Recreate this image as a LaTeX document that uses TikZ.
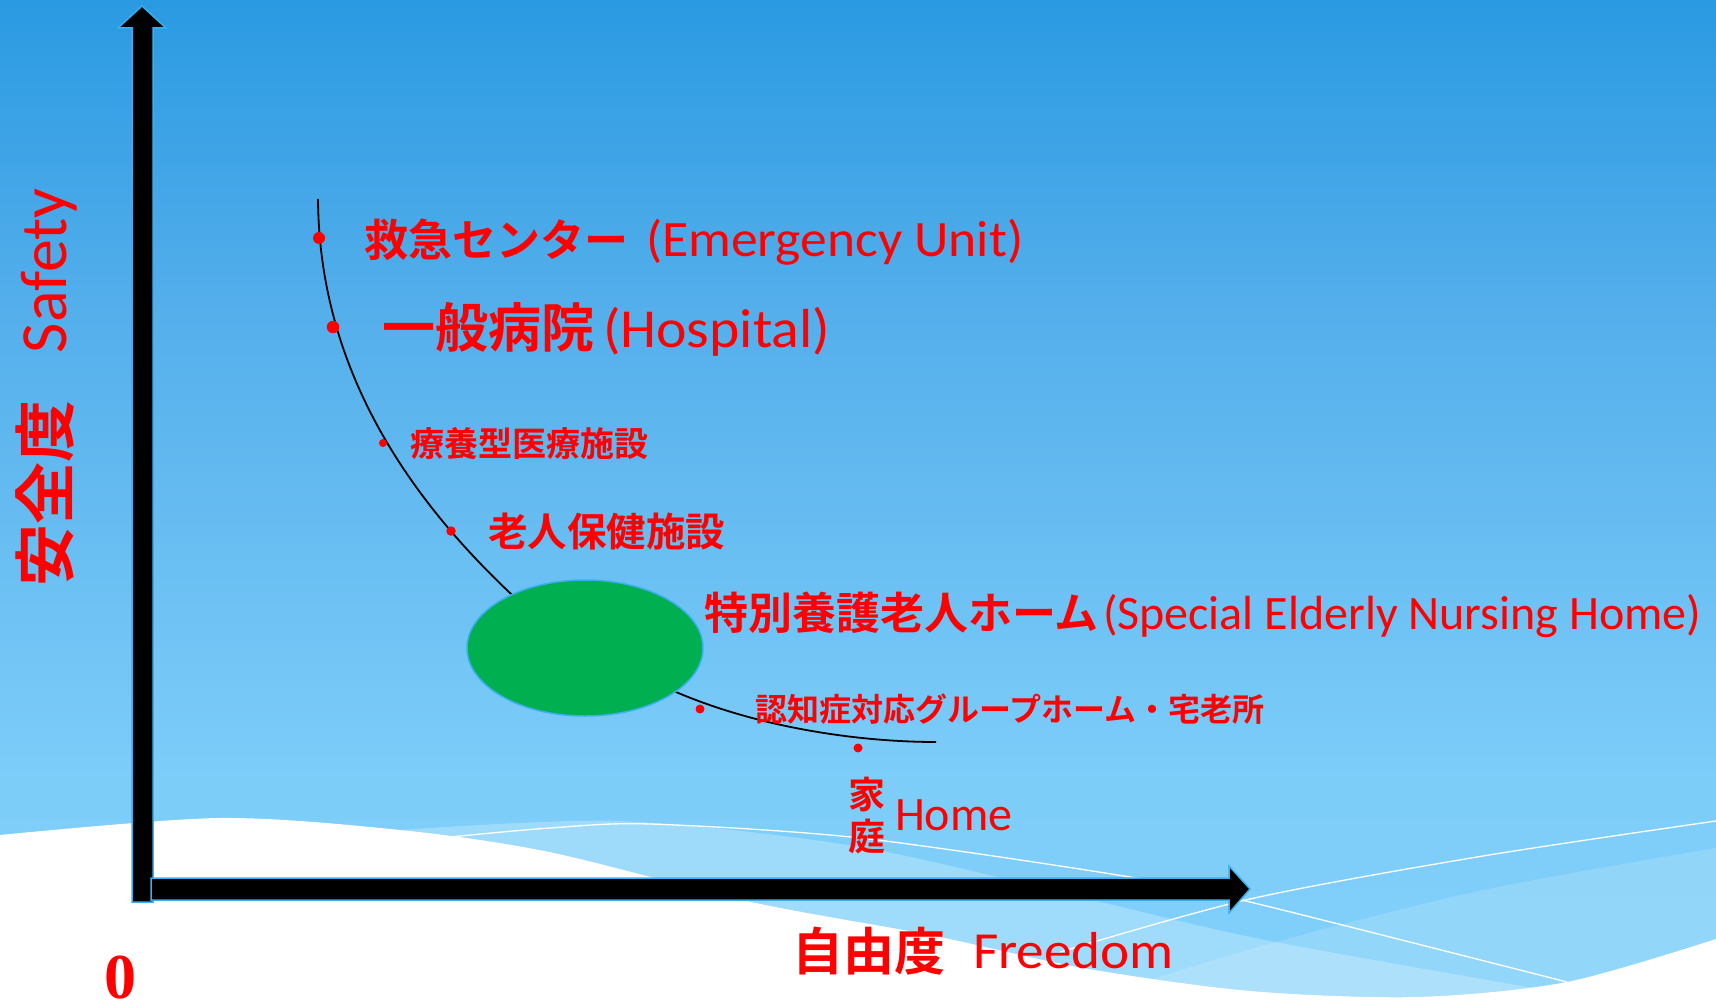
\documentclass[tikz,border=0pt]{standalone}
\usepackage{fontspec}
\usepackage{graphicx}
\setmainfont{Carlito}
\newfontfamily\cjk{Noto Sans CJK JP Bold}
\newfontfamily\tms{Liberation Serif Bold}
\usetikzlibrary{shapes.geometric}
\definecolor{bgA}{HTML}{2A9AE2}
\definecolor{bgB}{HTML}{53AEEB}
\definecolor{bgC}{HTML}{7DCDF9}
\definecolor{bgD}{HTML}{80D0FA}
\definecolor{axblue}{HTML}{3AAEF0}
\definecolor{ellgreen}{HTML}{00B050}
\pgfdeclareverticalshading{skybg}{100bp}{color(0bp)=(bgD); color(25bp)=(bgD); color(36.31bp)=(bgC); color(60.12bp)=(bgB); color(75bp)=(bgA); color(100bp)=(bgA)}
\tikzset{
  lbl/.style={text=red, inner sep=0pt, outer sep=0pt, anchor=base west},
  dotmark/.style={circle, fill=red, inner sep=0pt, minimum size=#1},
  axisarrow/.style={fill=black, draw=axblue, line width=1.5pt, line join=miter},
  waveline/.style={draw=white, line width=1.3pt},
}
\begin{document}
\begin{tikzpicture}[x=1pt,y=-1pt]
\useasboundingbox (0,0) rectangle (1716,1008);
% background
\shade[shading=skybg] (0,0) rectangle (1716,1008);
% translucent bands
\fill[white,opacity=0.25] plot[smooth] coordinates {(400,830) (620,821) (860,847) (1092,900) (1265,940) (1545,990)} -- (1545,1008) -- (400,1008) -- cycle;
\fill[white,opacity=0.15] plot[smooth] coordinates {(1060,1008) (1265,945) (1483,890) (1716,848)} -- (1716,1008) -- cycle;
% white region
\fill[white] plot[smooth] coordinates {(0,835) (219,818) (400,830) (549,852) (751,902) (930,935) (1083,968) (1250,991) (1417,997) (1567,982) (1716,939)} -- (1716,1008) -- (0,1008) -- cycle;
% thin white lines
\draw[waveline] plot[smooth] coordinates {(450,837) (550,828) (650,824) (860,838) (1130,877) (1250,902) (1567,982)};
\draw[waveline] plot[smooth] coordinates {(1060,952) (1250,899) (1483,856) (1716,821)};
% axes
\path[axisarrow] (132,902) -- (132,28) -- (118,28) -- (142,6) -- (166,28) -- (153,28) -- (153,902) -- cycle;
\path[axisarrow] (151,878) -- (1229,878) -- (1229,866) -- (1250,889) -- (1229,913) -- (1229,900) -- (151,900) -- cycle;
% curve
\coordinate (c0) at (318,199);
\coordinate (c1) at (510,593);
\coordinate (c2) at (676,692);
\coordinate (c3) at (936,742);
\draw[line width=1.8pt] (c0) .. controls (319,340) and (380,470) .. (c1)
  .. controls (570,650) and (620,668) .. (c2)
  .. controls (760,728) and (860,742) .. (c3);
% ellipse
\node[ellipse, fill=ellgreen, draw=axblue, line width=1.5pt, minimum width=236pt, minimum height=136pt, inner sep=0pt] (care) at (585,648) {};
% dots
\node[dotmark=12pt] (p1) at (319,238) {};
\node[dotmark=12.5pt] (p2) at (333,327) {};
\node[dotmark=8pt] (p3) at (383,443) {};
\node[dotmark=9.5pt] (p4) at (451,531) {};
\node[dotmark=9pt] (p5) at (700,709) {};
\node[dotmark=9pt] (p6) at (858,748) {};
% labels
\node[lbl] (emJ) at (364,257) {\cjk\fontsize{44}{50}\selectfont 救急センター};
\node[lbl] (emE) at (646,257) {\fontsize{51}{60}\selectfont\scalebox{1.05}[1]{(Emergency Unit)}};
\node[lbl] (hoJ) at (382,347) {\cjk\fontsize{53}{60}\selectfont 一般病院};
\node[lbl] (hoE) at (603,347) {\fontsize{55}{60}\selectfont\scalebox{1.05}[1]{(Hospital)}};
\node[lbl] (ryJ) at (410,456) {\cjk\fontsize{34}{40}\selectfont 療養型医療施設};
\node[lbl] (roJ) at (488,546) {\cjk\fontsize{39.5}{45}\selectfont 老人保健施設};
\node[lbl] (toJ) at (704,629) {\cjk\fontsize{44}{50}\selectfont 特別養護老人ホーム};
\node[lbl] (toE) at (1103,629) {\fontsize{48}{55}\selectfont (Special Elderly Nursing Home)};
\node[lbl] (niJ) at (755,721) {\cjk\fontsize{32}{38}\selectfont 認知症対応グループホーム・宅老所};
\node[lbl] (ieJ) at (848,808) {\cjk\fontsize{37}{42}\selectfont 家};
\node[lbl] (teJ) at (848,850) {\cjk\fontsize{37}{42}\selectfont 庭};
\node[lbl] (hmE) at (895,830) {\fontsize{48}{55}\selectfont Home};
\node[lbl] (jyJ) at (792,970) {\cjk\fontsize{51}{58}\selectfont 自由度};
\node[lbl] (jyE) at (973,968) {\fontsize{52}{58}\selectfont\scalebox{1.06}[1]{Freedom}};
\node[lbl, rotate=90] (saJ) at (68,586) {\cjk\fontsize{62}{70}\selectfont 安全度};
\node[lbl, rotate=90] (saE) at (66,353) {\fontsize{66}{72}\selectfont Safety};
\node[text=red, inner sep=0pt, anchor=base] (zero) at (120,998) {\tms\fontsize{64}{70}\selectfont 0};
\end{tikzpicture}
\end{document}
